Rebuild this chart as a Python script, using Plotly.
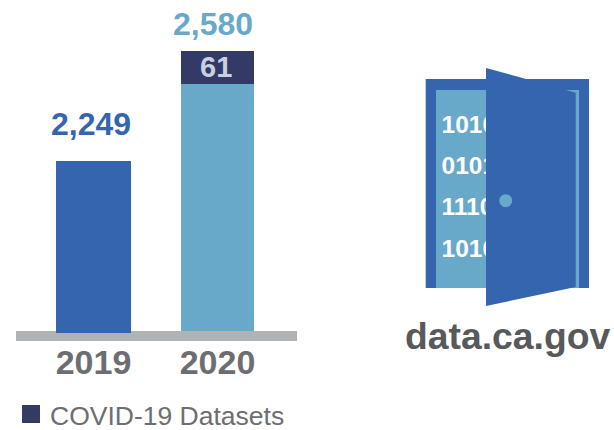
import plotly.graph_objects as go

# Chart content
years = ["2019", "2020"]
total_labels = ["2,249", "2,580"]
covid_label = "61"
legend_label = "COVID-19 Datasets"
door_lines = ["1010", "0101", "1110", "1010"]
door_caption = "data.ca.gov"

# The reference's bars are not drawn to a common scale (and the 61 segment is
# enlarged), so drawn heights are read from the picture, separately from labels.
height_2019 = [172]
height_2020_base = [247]
height_2020_covid = [33]

BLUE = "#3465AE"
LIGHT = "#68A9CA"
NAVY = "#343A66"
GRAY = "#B0B3B5"
TICK = "#6D6E71"
CAPTION = "#58595B"
FONT = "Liberation Sans, Arial, sans-serif"

fig = go.Figure()
fig.add_bar(x=[years[0]], y=height_2019, base=[-2], width=0.605, marker=dict(color=BLUE, line_width=0))
fig.add_bar(x=[years[1]], y=height_2020_base, base=[0], width=0.59, marker=dict(color=LIGHT, line_width=0))
fig.add_bar(x=[years[1]], y=height_2020_covid, base=height_2020_base, width=0.59,
            marker=dict(color=NAVY, line_width=0), name=legend_label)

# Binary digits behind the door (drawn as a trace so the door shape covers them)
fig.add_scatter(x=[441.5] * 4, y=[127, 168, 209, 251], text=door_lines, mode="text",
                textposition="middle right", textfont=dict(family=FONT, size=24.5, color="white", weight="bold"),
                xaxis="x2", yaxis="y2", hoverinfo="skip")

shape_xy = dict(xref="x2", yref="y2")
shapes = [
    # baseline
    dict(type="rect", xref="x domain", yref="y", x0=0, x1=1, y0=-10, y1=0, fillcolor=GRAY, line_width=0, layer="below"),
    # door frame and opening
    dict(type="rect", x0=425.7, x1=589, y0=79, y1=288, fillcolor=BLUE, line_width=0, layer="below", **shape_xy),
    dict(type="rect", x0=436, x1=579, y0=90, y1=288, fillcolor=LIGHT, line_width=0, layer="below", **shape_xy),
    # door leaf
    dict(type="path", path="M486,68 L575.7,92.7 L575.7,287 L486,306 Z", fillcolor=BLUE, line_width=0, layer="above", **shape_xy),
    # knob
    dict(type="circle", x0=499.2, x1=512.2, y0=194.2, y1=207.2, fillcolor=LIGHT, line_width=0, layer="above", **shape_xy),
    # legend swatch
    dict(type="rect", x0=22, x1=40, y0=405, y1=423, fillcolor=NAVY, line_width=0, layer="above", **shape_xy),
]


def label(x, y, text, color, size, weight="bold", anchor="center"):
    return dict(x=x, y=y, xref="x2", yref="y2", text=text, showarrow=False, xanchor=anchor, yanchor="middle",
                font=dict(family=FONT, size=size, color=color, weight=weight))


annotations = [
    label(91, 124, total_labels[0], BLUE, 32),
    label(213, 24, total_labels[1], LIGHT, 32),
    label(216, 67, covid_label, "#C8D0E2", 29),
    label(47.5, 416, legend_label, TICK, 26.5, weight="normal", anchor="left"),
    label(507, 335.5, door_caption, CAPTION, 37.3),
]

fig.update_layout(
    width=614, height=430, margin=dict(l=0, r=0, t=0, b=0),
    paper_bgcolor="white", plot_bgcolor="rgba(0,0,0,0)", showlegend=False, barmode="overlay",
    bargap=0, shapes=shapes, annotations=annotations,
    xaxis=dict(domain=[16 / 614, 297 / 614], range=[-0.625, 1.641], type="category",
               anchor="free", position=(430 - 331) / 430,
               categoryorder="array", categoryarray=years, showgrid=False, zeroline=False, showline=False,
               ticks="outside", ticklen=1, tickcolor="rgba(0,0,0,0)",
               tickfont=dict(family=FONT, size=34, color=TICK, weight="bold"), fixedrange=True),
    yaxis=dict(domain=[(430 - 341) / 430, 1], range=[-10, 331], visible=False, fixedrange=True),
    xaxis2=dict(domain=[0, 1], range=[0, 614], visible=False, fixedrange=True, anchor="y2"),
    yaxis2=dict(domain=[0, 1], range=[430, 0], visible=False, fixedrange=True, anchor="x2"),
)

fig.write_html("out.html", config={"displayModeBar": False},
               post_script="document.body.style.margin='0';")
